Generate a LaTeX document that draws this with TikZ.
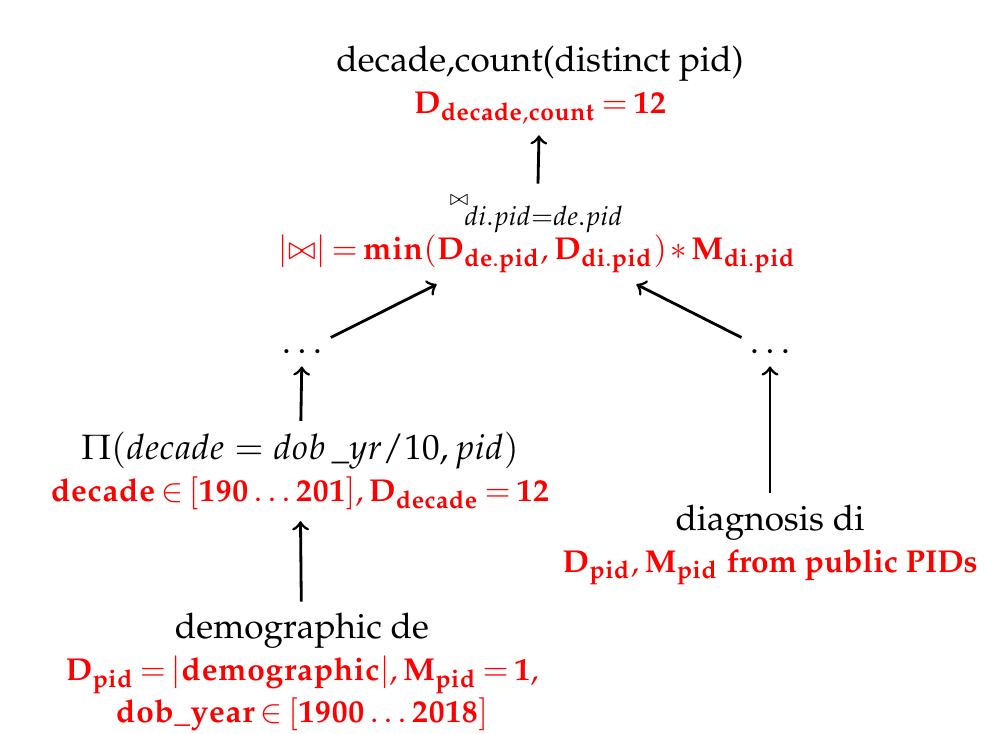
\documentclass[tikz,border=0pt]{standalone}
\usepackage[T1]{fontenc}
\usepackage{mathpazo}
\usetikzlibrary{positioning}
\tikzset{
  op/.style={align=center,inner sep=3pt},
  arr/.style={->,thick}
}
% red bold estimates under each operator
\newcommand{\est}[1]{{\small\color{red}\bfseries\thickmuskip=3mu\medmuskip=2mu #1}}
\newcommand{\Dv}[1]{\mathbf{D}_{\mathbf{#1}}}
\newcommand{\Mv}[1]{\mathbf{M}_{\mathbf{#1}}}

\begin{document}
\begin{tikzpicture}
  \useasboundingbox (0,0) rectangle (10.06,7.34);
  \node[op] (agg) at (5.40,6.49) {decade,count(distinct pid)\\
    \est{$\Dv{decade{,}count} = \mathbf{12}$}};
  \node[op] (join) at (5.37,5.00) {${}^{\scriptscriptstyle\bowtie}\!{}_{di.pid=de.pid}$\\
    \est{$|{\bowtie}| = \mathbf{min}(\Dv{de.pid}, \Dv{di.pid}) * \Mv{di.pid}$}};
  \node (ldots) at (3.02,3.82) {$\ldots$};
  \node (rdots) at (7.70,3.82) {$\ldots$};
  \node[op] (proj) at (3.00,2.63) {$\Pi(decade = dob\,\_yr/10, pid)$\\
    \est{$\mathbf{decade} \in [\mathbf{190}\ldots\mathbf{201}], \Dv{decade} = \mathbf{12}$}};
  \node[op] (demo) at (3.02,0.62) {demographic de\\
    \est{$\Dv{pid} = |\mathbf{demographic}|, \Mv{pid} = \mathbf{1},$}\\
    \est{$\mathbf{dob\_year} \in [\mathbf{1900}\ldots\mathbf{2018}]$}};
  \node[op] (diag) at (7.70,1.89) {diagnosis di\\
    \est{$\Dv{pid}, \Mv{pid}$ from public PIDs}};

  \draw[arr] (join) -- (agg);
  \draw[arr] (ldots) -- (join);
  \draw[arr] (rdots) -- (join);
  \draw[arr] (proj) -- (ldots);
  \draw[arr] (demo) -- (proj);
  \draw[arr] (diag) -- (rdots);
\end{tikzpicture}
\end{document}
